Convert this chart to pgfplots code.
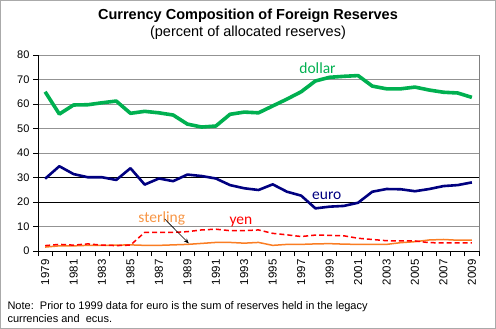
\documentclass[border=0pt]{standalone}
\usepackage{fontspec}
\setmainfont{Liberation Sans}
\newfontfamily\calibri{Carlito}
\usepackage{pgfplots}
\usepackage{pgfplotstable}
\pgfplotsset{compat=1.18}
\usetikzlibrary{arrows.meta}
\definecolor{cdollar}{RGB}{0,176,80}
\definecolor{ceuro}{RGB}{0,0,128}
\definecolor{cyen}{RGB}{255,0,0}
\definecolor{cster}{RGB}{250,125,35}
\definecolor{csterT}{RGB}{247,150,70}
\definecolor{frame}{RGB}{170,170,170}
\pgfplotstableread{
year dollar euro yen sterling
1979 65.0 29.5 2.2 1.6
1980 55.9 34.6 2.7 2.1
1981 59.6 31.4 2.4 2.1
1982 59.7 30.1 2.9 2.3
1983 60.5 30.1 2.4 2.3
1984 61.2 29.0 2.2 2.4
1985 56.2 33.8 2.4 2.5
1986 57.0 27.1 7.6 2.3
1987 56.4 29.6 7.6 2.3
1988 55.5 28.5 7.6 2.5
1989 51.8 31.2 7.9 2.7
1990 50.6 30.6 8.6 3.1
1991 51.0 29.6 8.9 3.5
1992 55.8 26.9 8.3 3.5
1993 56.7 25.6 8.3 3.2
1994 56.4 24.9 8.6 3.5
1995 59.2 27.2 7.2 2.3
1996 62.0 24.2 6.6 2.7
1997 65.0 22.6 5.9 2.7
1998 69.4 17.4 6.5 2.9
1999 70.9 18.1 6.4 3.0
2000 71.3 18.4 6.2 2.8
2001 71.6 19.7 5.2 2.7
2002 67.3 24.2 4.7 2.7
2003 66.2 25.3 4.2 2.7
2004 66.2 25.2 4.1 3.4
2005 66.9 24.4 4.1 3.8
2006 65.7 25.3 3.4 4.5
2007 64.8 26.5 3.3 4.7
2008 64.5 26.9 3.3 4.4
2009 62.7 28.0 3.3 4.4
}\reserves
\begin{document}
\begin{tikzpicture}[x=1pt,y=1pt]
\useasboundingbox (0,0) rectangle (496,-329);
\draw[frame,line width=0.8pt] (0.5,-0.5) rectangle (495.5,-328.5);
\node[font=\bfseries\fontsize{14.5}{16}\selectfont] at (248,-16) {Currency Composition of Foreign Reserves};
\node[font=\fontsize{14.5}{16}\selectfont] at (248,-33) {(percent of allocated reserves)};
\begin{axis}[
  at={(38pt,-251pt)}, anchor=south west,
  scale only axis, width=441pt, height=196pt,
  xmin=1978.5, xmax=2009.5, ymin=0, ymax=80,
  axis x line*=bottom, axis y line*=left,
  axis line style={black, line width=0.8pt},
  xtick={1979,1981,...,2009},
  minor xtick={1978.5,1979.5,...,2009.5},
  ytick={0,10,...,80},
  major x tick style={draw=none},
  minor tick length=5pt,
  major tick length=5pt,
  tick align=outside,
  tick style={black, line width=0.6pt},
  ymajorgrids,
  grid style={gray!85, line width=0.9pt},
  extra y ticks={20,30},
  extra y tick labels={},
  extra y tick style={grid style={black, line width=0.9pt}, major tick length=0pt},
  /pgf/number format/assume math mode=true,
  xticklabel={\pgfmathprintnumber[1000 sep={}]{\tick}},
  xticklabel style={rotate=90, anchor=east, font=\fontsize{11.5}{12}\selectfont},
  yticklabel style={font=\fontsize{11}{12}\selectfont},
  clip=false,
]
\draw[gray, line width=0.9pt] (rel axis cs:1,0) -- (rel axis cs:1,1);
\addplot[cster, line width=1.5pt] table[x=year,y=sterling] {\reserves};
\addplot[cyen, line width=1.5pt, dash pattern=on 5pt off 3pt] table[x=year,y=yen] {\reserves};
\addplot[ceuro, line width=2.6pt, line join=round] table[x=year,y=euro] {\reserves};
\addplot[cdollar, line width=3.6pt, line join=round] table[x=year,y=dollar] {\reserves};
\node[cdollar, anchor=base, inner sep=0pt, font=\calibri\fontsize{15.5}{16}\selectfont] at (axis cs:1998.15,72.5) {dollar};
\node[ceuro, anchor=base, inner sep=0pt, font=\calibri\fontsize{15.5}{16}\selectfont] at (axis cs:1998.8,21.1) {euro};
\node[csterT, anchor=base, inner sep=0pt, font=\calibri\fontsize{15.5}{16}\selectfont] at (axis cs:1987.2,11.8) {sterling};
\node[cyen, anchor=base, inner sep=0pt, font=\calibri\fontsize{15.5}{16}\selectfont] at (axis cs:1992.76,11.0) {yen};
\draw[black, line width=0.6pt, -{Stealth[length=5pt,width=4pt]}] (axis cs:1987.4,13.1) -- (axis cs:1989.1,3.1);
\end{axis}
\node[anchor=base west, font=\fontsize{11}{12}\selectfont] at (4,-309) {Note:\ \ Prior to 1999 data for euro is the sum of reserves held in the legacy};
\node[anchor=base west, font=\fontsize{11}{12}\selectfont] at (4,-322) {currencies and\ \ ecus.};
\end{tikzpicture}
\end{document}
